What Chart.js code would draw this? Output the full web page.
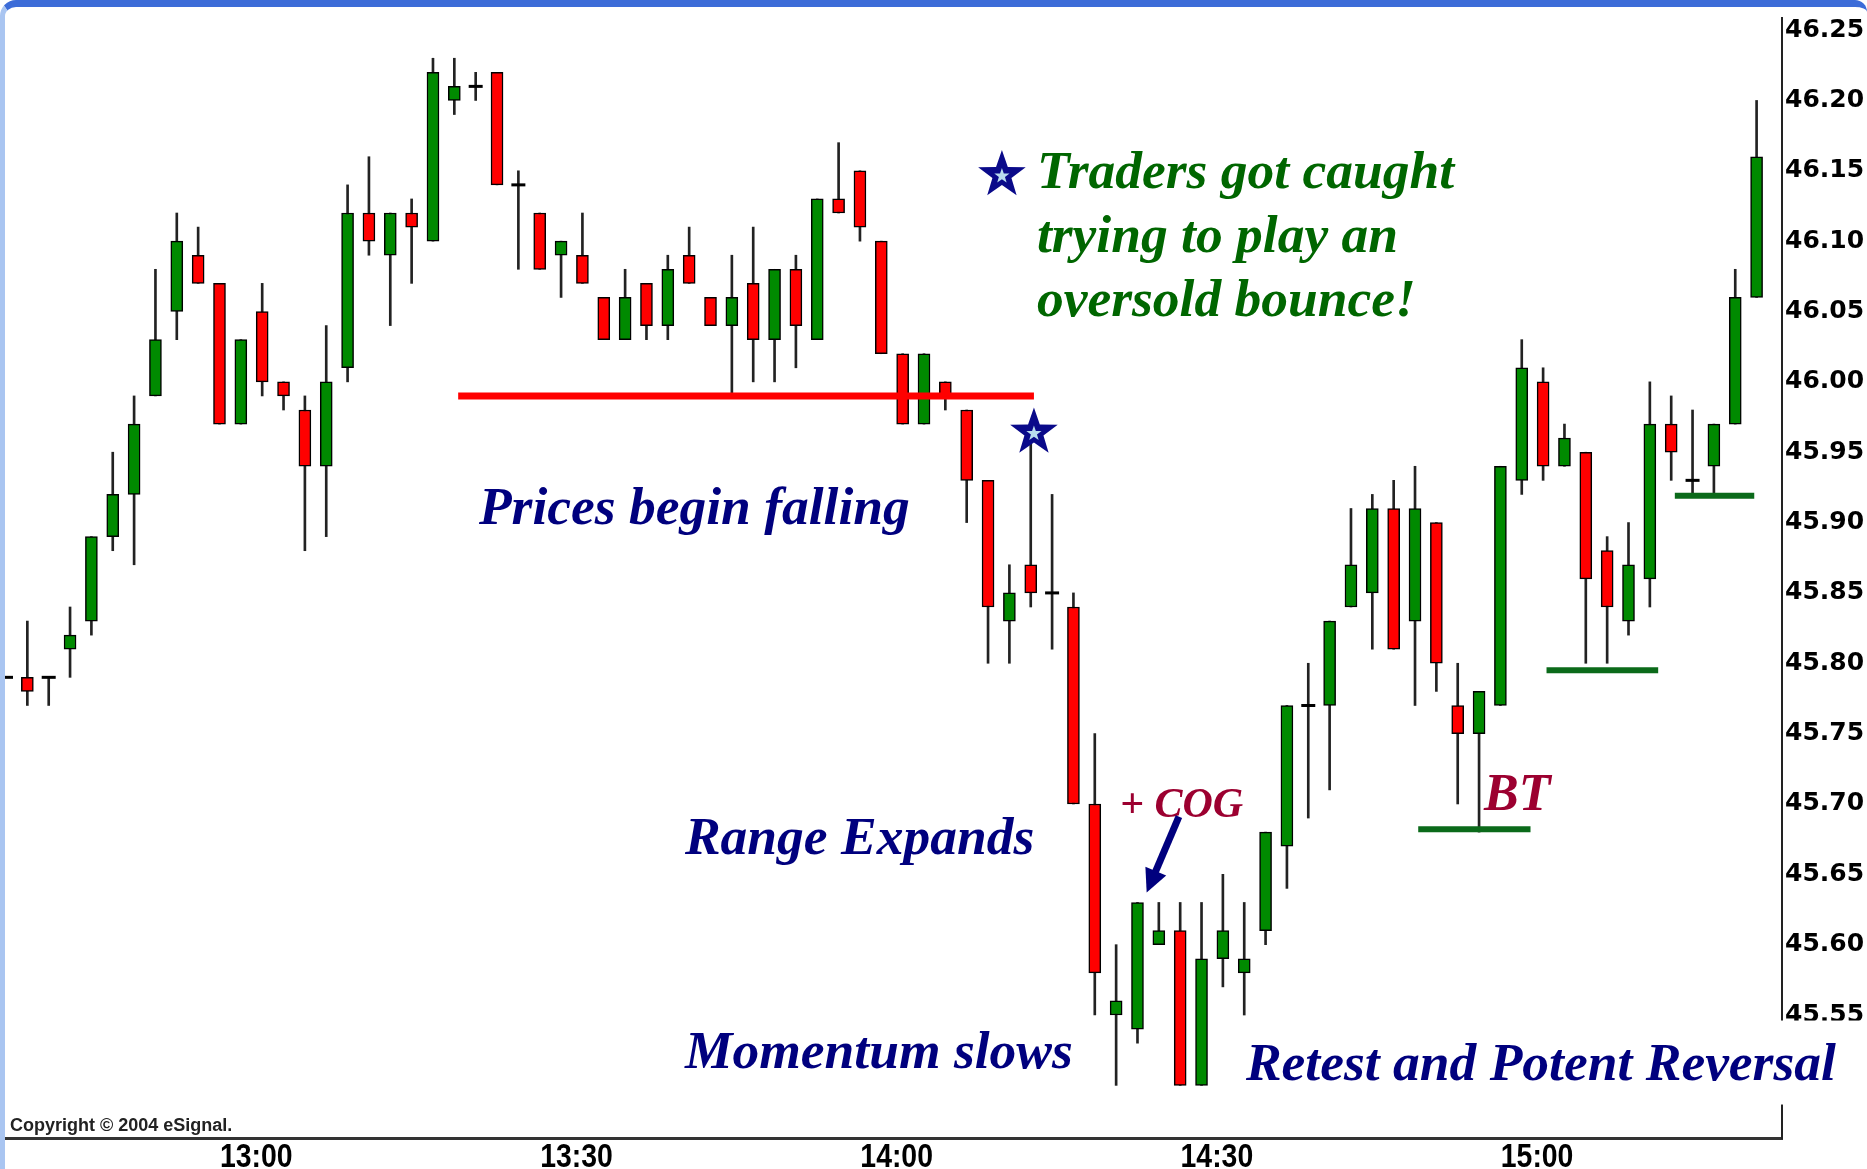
<!DOCTYPE html>
<html>
<head>
<meta charset="utf-8">
<title>Retest and Potent Reversal</title>
<script src="https://cdn.jsdelivr.net/npm/chart.js@4.4.1/dist/chart.umd.min.js"></script>
<style>
  html, body { margin: 0; padding: 0; background: #fff; overflow: hidden; }
  #wrap { position: relative; width: 1867px; height: 1169px; }
  #frame {
    position: absolute; left: 0; top: 0; width: 1867px; height: 1169px; box-sizing: border-box;
    border-top: 7px solid #3c6cd8; border-left: 5px solid #a9c5f1;
    border-top-left-radius: 16px; border-top-right-radius: 12px; pointer-events: none;
  }
</style>
</head>
<body>
<div id="wrap">
  <canvas id="chart" width="1867" height="1169"></canvas>
  <div id="frame"></div>
</div>
<script>
// 2 minute bars
const times = [
    '12:36','12:38','12:40','12:42','12:44','12:46','12:48','12:50','12:52','12:54','12:56','12:58',
    '13:00','13:02','13:04','13:06','13:08','13:10','13:12','13:14','13:16','13:18','13:20','13:22','13:24','13:26','13:28',
    '13:30','13:32','13:34','13:36','13:38','13:40','13:42','13:44','13:46','13:48','13:50','13:52','13:54','13:56','13:58',
    '14:00','14:02','14:04','14:06','14:08','14:10','14:12','14:14','14:16','14:18','14:20','14:22','14:24','14:26','14:28',
    '14:30','14:32','14:34','14:36','14:38','14:40','14:42','14:44','14:46','14:48','14:50','14:52','14:54','14:56','14:58',
    '15:00','15:02','15:04','15:06','15:08','15:10','15:12','15:14','15:16','15:18','15:20'
];
const opens = [
    45.79, 45.79, 45.79, 45.81, 45.83, 45.89, 45.92, 45.99, 46.05, 46.09, 46.07, 45.97,
    46.05, 46.00, 45.98, 45.94, 46.01, 46.12, 46.09, 46.12, 46.10, 46.20, 46.21, 46.22, 46.14, 46.12, 46.09,
    46.09, 46.06, 46.03, 46.07, 46.04, 46.09, 46.06, 46.04, 46.07, 46.03, 46.08, 46.03, 46.13, 46.15, 46.10,
    46.02, 45.97, 46.00, 45.98, 45.93, 45.83, 45.87, 45.85, 45.84, 45.70, 45.55, 45.54, 45.60, 45.61, 45.50,
    45.59, 45.58, 45.61, 45.67, 45.77, 45.77, 45.84, 45.85, 45.91, 45.83, 45.90, 45.77, 45.75, 45.77, 45.93,
    46.00, 45.94, 45.95, 45.88, 45.83, 45.86, 45.97, 45.93, 45.94, 45.97, 46.06
];
const highs = [
    45.79, 45.83, 45.79, 45.84, 45.89, 45.95, 45.99, 46.08, 46.12, 46.11, 46.07, 46.03,
    46.07, 46.00, 45.99, 46.04, 46.14, 46.16, 46.12, 46.13, 46.23, 46.23, 46.22, 46.22, 46.15, 46.12, 46.10,
    46.12, 46.06, 46.08, 46.07, 46.09, 46.11, 46.06, 46.09, 46.11, 46.08, 46.09, 46.13, 46.17, 46.15, 46.10,
    46.02, 46.02, 46.00, 45.98, 45.93, 45.87, 45.96, 45.92, 45.85, 45.75, 45.60, 45.63, 45.63, 45.63, 45.63,
    45.65, 45.63, 45.68, 45.77, 45.80, 45.83, 45.91, 45.92, 45.93, 45.94, 45.90, 45.80, 45.78, 45.94, 46.03,
    46.01, 45.97, 45.95, 45.89, 45.90, 46.00, 45.99, 45.98, 45.97, 46.08, 46.20
];
const lows = [
    45.79, 45.77, 45.77, 45.79, 45.82, 45.88, 45.87, 45.99, 46.03, 46.07, 45.97, 45.97,
    45.99, 45.98, 45.88, 45.89, 46.00, 46.09, 46.04, 46.07, 46.10, 46.19, 46.20, 46.14, 46.08, 46.08, 46.06,
    46.07, 46.03, 46.03, 46.03, 46.03, 46.07, 46.04, 45.99, 46.00, 46.00, 46.01, 46.03, 46.12, 46.10, 46.02,
    45.97, 45.97, 45.98, 45.90, 45.80, 45.80, 45.84, 45.81, 45.70, 45.55, 45.50, 45.53, 45.60, 45.50, 45.50,
    45.57, 45.55, 45.60, 45.64, 45.69, 45.71, 45.84, 45.81, 45.81, 45.77, 45.78, 45.70, 45.68, 45.77, 45.92,
    45.93, 45.94, 45.80, 45.80, 45.82, 45.84, 45.93, 45.92, 45.92, 45.97, 46.06
];
const closes = [
    45.79, 45.78, 45.79, 45.82, 45.89, 45.92, 45.97, 46.03, 46.10, 46.07, 45.97, 46.03,
    46.00, 45.99, 45.94, 46.00, 46.12, 46.10, 46.12, 46.11, 46.22, 46.21, 46.21, 46.14, 46.14, 46.08, 46.10,
    46.07, 46.03, 46.06, 46.04, 46.08, 46.07, 46.04, 46.06, 46.03, 46.08, 46.04, 46.13, 46.12, 46.11, 46.02,
    45.97, 46.02, 45.99, 45.93, 45.84, 45.85, 45.85, 45.85, 45.70, 45.58, 45.56, 45.63, 45.61, 45.50, 45.59,
    45.61, 45.59, 45.68, 45.77, 45.77, 45.83, 45.87, 45.91, 45.81, 45.91, 45.80, 45.75, 45.78, 45.94, 46.01,
    45.94, 45.96, 45.86, 45.84, 45.87, 45.97, 45.95, 45.93, 45.97, 46.06, 46.16
];
const priceTicks = [46.25, 46.20, 46.15, 46.10, 46.05, 46.00, 45.95, 45.90, 45.85, 45.80, 45.75, 45.70, 45.65, 45.60, 45.55];
const timeTicks = ['13:00', '13:30', '14:00', '14:30', '15:00'];

// drawn levels (bar index from/to, price)
const levels = [
    { from: 21.18, to: 48.15, price: 45.99, color: '#ff0000', width: 7 },
    { from: 66.15, to: 71.41, price: 45.682, color: '#0b6a1a', width: 6 },
    { from: 72.16, to: 77.39, price: 45.795, color: '#0b6a1a', width: 6 },
    { from: 78.17, to: 81.89, price: 45.919, color: '#0b6a1a', width: 6 }
];
const navy = '#00007e';
const green = '#006600';
const crimson = '#9c0030';
const notes = [
    { text: 'Traders got caught', x: 48.29, y: 46.1375, color: green, size: 53.5 },
    { text: 'trying to play an', x: 48.29, y: 46.092, color: green, size: 53.5 },
    { text: 'oversold bounce!', x: 48.29, y: 46.0465, color: green, size: 53.5 },
    { text: 'Prices begin falling', x: 22.15, y: 45.899, color: navy, size: 53.5 },
    { text: 'Range Expands', x: 31.8, y: 45.6645, color: navy, size: 53.5 },
    { text: 'Momentum slows', x: 31.8, y: 45.512, color: navy, size: 53.5 },
    { text: 'Retest and Potent Reversal', x: 58.08, y: 45.5035, color: navy, size: 53.5, box: true },
    { text: '+ COG', x: 52.18, y: 45.691, color: crimson, size: 42 },
    { text: 'BT', x: 69.23, y: 45.696, color: crimson, size: 52 }
];
const stars = [{ x: 46.65, y: 46.147 }, { x: 48.15, y: 45.964 }];
const arrow = { x0: 54.94, y0: 45.691, x1: 53.43, y1: 45.637 };

const upColor = '#008a00';
const downColor = '#ff0000';

const wickData = times.map((t, i) => ({ x: i, y: [lows[i], highs[i]] }));
const bodyData = times.map((t, i) => ({ x: i, y: opens[i] === closes[i] ? null : [opens[i], closes[i]] }));
const bodyColors = times.map((t, i) => closes[i] > opens[i] ? upColor : downColor);
const dojiData = times.map((t, i) => ({ x: i, y: opens[i] === closes[i] ? closes[i] : null }));

const levelSets = levels.map(l => ({
    type: 'line',
    data: [{ x: l.from, y: l.price }, { x: l.to, y: l.price }],
    borderColor: l.color,
    borderWidth: l.width,
    borderCapStyle: 'butt',
    pointRadius: 0,
    order: -1
}));

function drawStar(ctx, cx, cy, r, fill) {
    ctx.beginPath();
    for (let k = 0; k < 10; k++) {
        const rad = k % 2 === 0 ? r : r * 0.4;
        const a = -Math.PI / 2 + k * Math.PI / 5;
        ctx.lineTo(cx + rad * Math.cos(a), cy + rad * Math.sin(a));
    }
    ctx.closePath();
    ctx.fillStyle = fill;
    ctx.fill();
}

const notesPlugin = {
    id: 'notes',
    afterDraw(chart) {
        const { ctx, scales: { x, y } } = chart;
        ctx.save();
        notes.forEach(n => {
            ctx.font = `italic bold ${n.size}px "Liberation Serif", "Times New Roman", serif`;
            const px = x.getPixelForValue(n.x);
            const py = y.getPixelForValue(n.y);
            if (n.box) {
                const w = ctx.measureText(n.text).width;
                ctx.fillStyle = '#fff';
                ctx.fillRect(px - 6, py - n.size * 1.12, w + 60, n.size * 1.57);
            }
            ctx.fillStyle = n.color;
            ctx.textAlign = 'left';
            ctx.textBaseline = 'alphabetic';
            ctx.fillText(n.text, px, py);
        });

        stars.forEach(s => {
            const cx = x.getPixelForValue(s.x);
            const cy = y.getPixelForValue(s.y);
            drawStar(ctx, cx, cy, 25, '#0a0a8a');
            drawStar(ctx, cx, cy + 1, 8, '#b9dcee');
        });

        // arrow to the COG bar
        const ax0 = x.getPixelForValue(arrow.x0), ay0 = y.getPixelForValue(arrow.y0);
        const ax1 = x.getPixelForValue(arrow.x1), ay1 = y.getPixelForValue(arrow.y1);
        const ang = Math.atan2(ay1 - ay0, ax1 - ax0);
        const head = 26;
        ctx.strokeStyle = navy;
        ctx.fillStyle = navy;
        ctx.lineWidth = 7;
        ctx.beginPath();
        ctx.moveTo(ax0, ay0);
        ctx.lineTo(ax1 - head * 0.8 * Math.cos(ang), ay1 - head * 0.8 * Math.sin(ang));
        ctx.stroke();
        ctx.beginPath();
        ctx.moveTo(ax1, ay1);
        ctx.lineTo(ax1 - head * Math.cos(ang - 0.45), ay1 - head * Math.sin(ang - 0.45));
        ctx.lineTo(ax1 - head * Math.cos(ang + 0.45), ay1 - head * Math.sin(ang + 0.45));
        ctx.closePath();
        ctx.fill();

        // time labels, narrow like the eSignal axis font
        ctx.font = 'bold 33px "Liberation Sans", Arial, sans-serif';
        ctx.fillStyle = '#000';
        ctx.textAlign = 'center';
        ctx.textBaseline = 'top';
        x.ticks.forEach(t => {
            ctx.save();
            ctx.translate(x.getPixelForValue(t.value) - 6, chart.chartArea.bottom + 3);
            ctx.scale(0.86, 1);
            ctx.fillText(times[t.value], 0, 0);
            ctx.restore();
        });

        ctx.font = 'bold 18px "Liberation Sans", Arial, sans-serif';
        ctx.fillStyle = '#222';
        ctx.textAlign = 'left';
        ctx.textBaseline = 'alphabetic';
        ctx.fillText('Copyright \u00a9 2004 eSignal.', 10, 1131);
        ctx.restore();
    }
};

new Chart(document.getElementById('chart'), {
    type: 'bar',
    data: {
        datasets: [
            {
                data: wickData,
                backgroundColor: '#222',
                barThickness: 2,
                grouped: false,
                order: 2
            },
            {
                data: bodyData,
                backgroundColor: bodyColors,
                borderColor: '#000',
                borderWidth: 1.5,
                borderSkipped: false,
                barThickness: 12,
                grouped: false,
                order: 1
            },
            {
                type: 'line',
                data: dojiData,
                showLine: false,
                pointStyle: 'line',
                pointRadius: 7,
                pointBorderWidth: 3,
                pointBorderColor: '#000',
                order: 0
            },
            ...levelSets
        ]
    },
    options: {
        responsive: false,
        animation: false,
        devicePixelRatio: 1,
        layout: { autoPadding: false, padding: { left: 4, top: 14, right: 0, bottom: 0 } },
        plugins: {
            legend: { display: false },
            tooltip: { enabled: false }
        },
        scales: {
            x: {
                type: 'linear',
                min: -0.094,
                max: 83.19,
                offset: false,
                grid: { display: false, drawTicks: false },
                border: { display: true, color: '#333', width: 3 },
                afterBuildTicks: scale => {
                    scale.ticks = timeTicks.map(t => ({ value: times.indexOf(t) }));
                },
                afterFit: scale => { scale.height = 31; },
                ticks: { display: false, autoSkip: false }
            },
            y: {
                position: 'right',
                min: 45.4626,
                max: 46.2586,
                grid: { drawOnChartArea: false, drawTicks: false },
                border: { display: true, color: '#222', width: 2 },
                afterBuildTicks: scale => {
                    scale.ticks = priceTicks.map(v => ({ value: v }));
                },
                afterFit: scale => { scale.width = 85; },
                ticks: {
                    padding: 3,
                    color: '#000',
                    font: { family: '"DejaVu Sans", sans-serif', size: 25, weight: 'bold' },
                    callback: v => Number(v).toFixed(2)
                }
            }
        }
    },
    plugins: [notesPlugin]
});
</script>
</body>
</html>
